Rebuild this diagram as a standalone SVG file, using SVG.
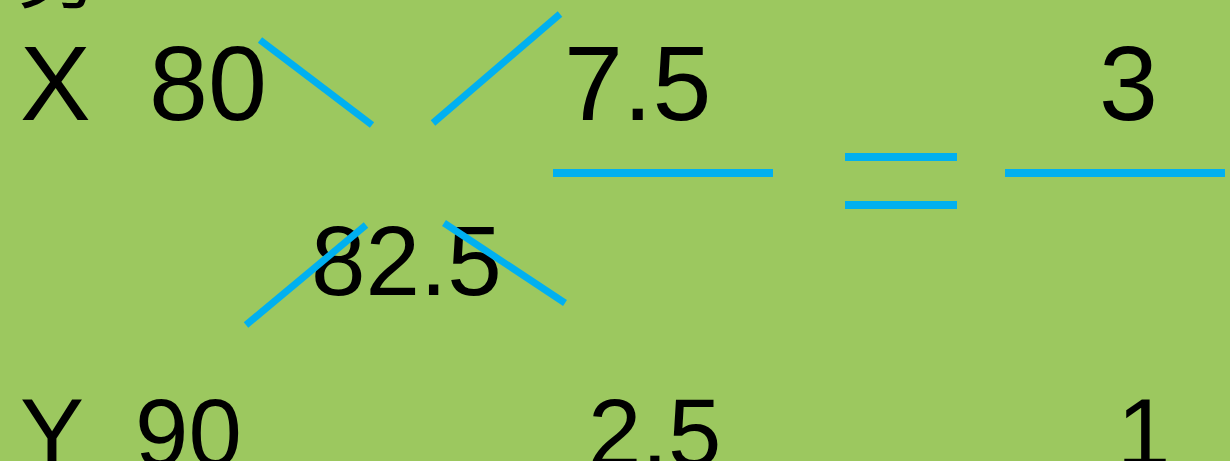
<svg xmlns="http://www.w3.org/2000/svg" width="1230" height="461" viewBox="0 0 1230 461">
<style>
.t{font-family:"Liberation Sans",Arial,sans-serif;font-size:106px;fill:#000}
.s{font-size:96px}
.c{font-family:"Noto Sans CJK SC",sans-serif;font-size:80px;fill:#000}
.b{stroke:#00B0F0;stroke-width:7;fill:none}
.h{stroke:#00B0F0;stroke-width:8;fill:none}
</style>
<rect width="1230" height="461" fill="#9CC85F"/>
<g id="labels">
<text class="c" x="18" y="1">男</text>
<text class="t" x="20" y="120">X</text>
<text class="t" x="149" y="120">80</text>
<text class="t" x="311" y="295" style="font-size:98px">82.5</text>
<text class="t" x="564" y="120">7.5</text>
<text class="t" x="1099" y="120">3</text>
<text class="t s" x="20" y="466">Y</text>
<text class="t s" x="135" y="466">90</text>
<text class="t s" x="588" y="466">2.5</text>
<text class="t s" x="1117" y="466">1</text>
</g>
<g id="connectors">
<line class="b" x1="260" y1="40" x2="372" y2="125"/>
<line class="b" x1="433" y1="123" x2="560" y2="14"/>
<line class="b" x1="246" y1="325" x2="366" y2="225"/>
<line class="b" x1="444" y1="223" x2="565" y2="303"/>
<line class="h" x1="553" y1="173" x2="773" y2="173"/>
<line class="h" x1="845" y1="157" x2="957" y2="157"/>
<line class="h" x1="845" y1="205" x2="957" y2="205"/>
<line class="h" x1="1005" y1="173" x2="1225" y2="173"/>
</g>
</svg>
